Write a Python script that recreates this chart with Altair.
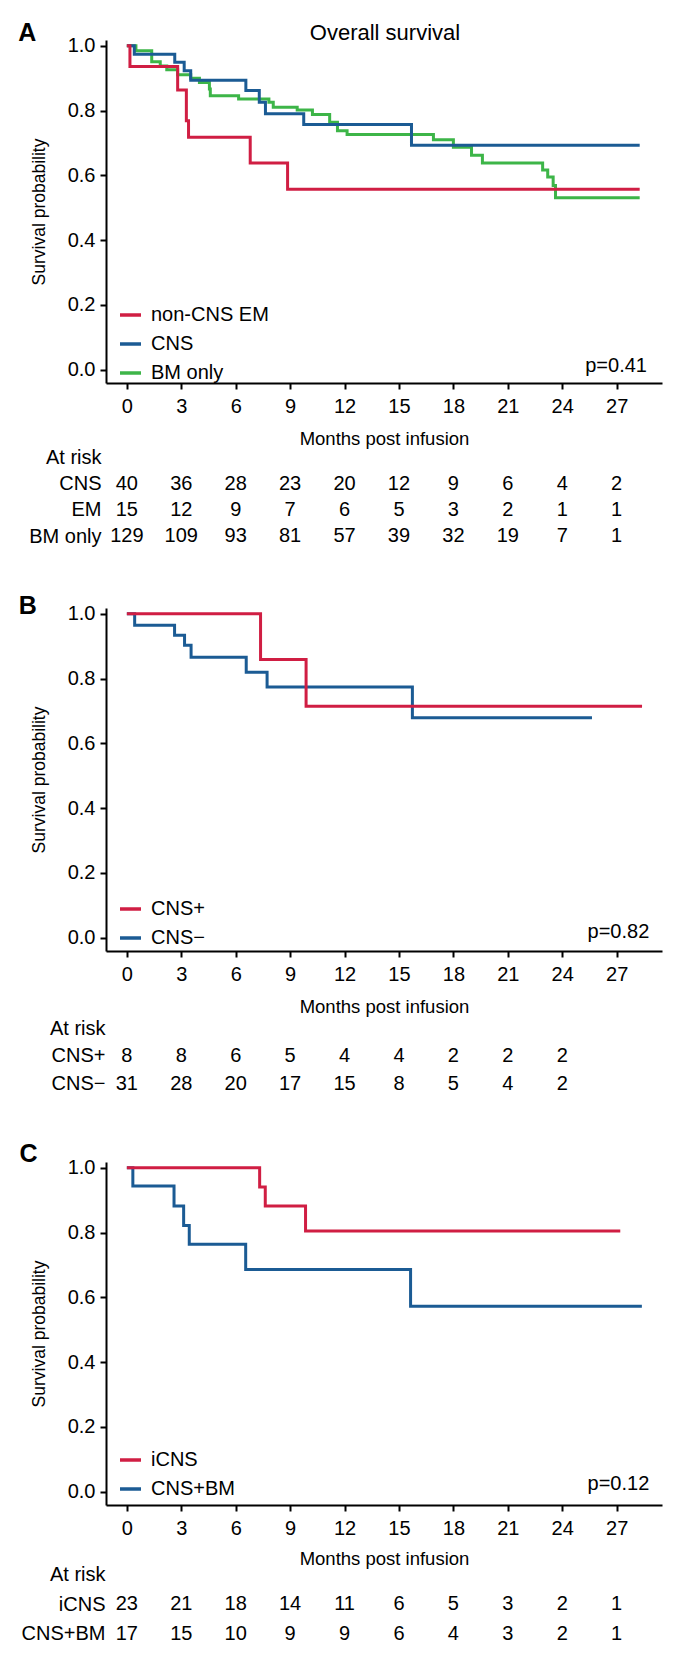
import altair as alt
import pandas as pd

FONT = "Liberation Sans, Arial, Helvetica, sans-serif"

RED = "#D01E43"
BLUE = "#1B5B94"
GREEN = "#3DB548"

X_DOMAIN = [-1.15, 29.5]
Y_DOMAIN = [-0.041, 1.018]
X_TICKS = [0, 3, 6, 9, 12, 15, 18, 21, 24, 27]
Y_TICKS = [0.0, 0.2, 0.4, 0.6, 0.8, 1.0]
W, H = 556, 343

# ---------------- Panel A ----------------
a_groups = ["non-CNS EM", "CNS", "BM only"]
a_red_t = [0, 0.17, 2.8, 3.28, 3.4, 6.8, 8.86, 28.27]
a_red_s = [1.0, 0.936, 0.864, 0.769, 0.718, 0.638, 0.557, 0.557]
a_blue_t = [0, 0.41, 2.64, 3.16, 3.52, 6.56, 7.3, 7.64, 9.75, 15.69, 28.27]
a_blue_s = [1.0, 0.974, 0.949, 0.923, 0.894, 0.862, 0.826, 0.79, 0.757, 0.693, 0.693]
a_green_t = [0, 0.5, 1.37, 1.84, 2.2, 2.8, 3.52, 4.0, 4.55, 4.6, 6.16, 7.83, 8.07,
             9.39, 10.23, 11.18, 11.61, 12.14, 16.9, 18.0, 19.0, 19.6, 22.92, 23.2,
             23.5, 23.63, 28.27]
a_green_s = [1.0, 0.985, 0.951, 0.938, 0.926, 0.911, 0.9, 0.887, 0.867, 0.846, 0.836,
             0.826, 0.81, 0.802, 0.788, 0.764, 0.738, 0.726, 0.71, 0.687, 0.662, 0.638,
             0.617, 0.595, 0.569, 0.531, 0.531]
a_risk_rows = ["CNS", "EM", "BM only"]
a_risk_cns = [40, 36, 28, 23, 20, 12, 9, 6, 4, 2]
a_risk_em = [15, 12, 9, 7, 6, 5, 3, 2, 1, 1]
a_risk_bm = [129, 109, 93, 81, 57, 39, 32, 19, 7, 1]

# ---------------- Panel B ----------------
b_groups = ["CNS+", "CNS\u2212"]
b_red_t = [0, 7.37, 9.88, 28.4]
b_red_s = [1.0, 0.859, 0.715, 0.715]
b_blue_t = [0, 0.43, 2.63, 3.18, 3.54, 6.58, 7.73, 15.74, 25.64]
b_blue_s = [1.0, 0.965, 0.934, 0.903, 0.866, 0.82, 0.774, 0.679, 0.679]
b_risk_rows = ["CNS+", "CNS\u2212"]
b_risk_pos = [8, 8, 6, 5, 4, 4, 2, 2, 2]
b_risk_neg = [31, 28, 20, 17, 15, 8, 5, 4, 2]

# ---------------- Panel C ----------------
c_groups = ["iCNS", "CNS+BM"]
c_red_t = [0, 7.32, 7.63, 9.85, 27.2]
c_red_s = [1.0, 0.941, 0.882, 0.805, 0.805]
c_blue_t = [0, 0.33, 2.6, 3.13, 3.44, 6.55, 15.64, 28.39]
c_blue_s = [1.0, 0.944, 0.882, 0.822, 0.764, 0.686, 0.573, 0.573]
c_risk_rows = ["iCNS", "CNS+BM"]
c_risk_icns = [23, 21, 18, 14, 11, 6, 5, 3, 2, 1]
c_risk_cnsbm = [17, 15, 10, 9, 9, 6, 4, 3, 2, 1]


def km_panel(curves, domain, colors, draw_order, legend_y, letter, letter_xy,
             pval, pval_xy, title=None):
    rows = []
    for name, ts, ss in curves:
        for t, s in zip(ts, ss):
            rows.append({"group": name, "t": t, "s": s})
    df = pd.DataFrame(rows)

    x = alt.X("t:Q", scale=alt.Scale(domain=X_DOMAIN, nice=False, zero=False),
              axis=alt.Axis(values=X_TICKS, title=None, labelPadding=7, labelFlush=False))
    y = alt.Y("s:Q", scale=alt.Scale(domain=Y_DOMAIN, nice=False, zero=False),
              axis=alt.Axis(values=Y_TICKS, format=".1f", title="Survival probability",
                            titleFontSize=17.5, titleFontWeight="normal",
                            labelPadding=5, titlePadding=19, labelFlush=False))
    color = alt.Color("group:N", scale=alt.Scale(domain=domain, range=colors),
                      legend=alt.Legend(orient="none", legendX=12, legendY=legend_y,
                                        title=None, symbolType="stroke",
                                        symbolStrokeWidth=3.5, symbolSize=441,
                                        labelFontSize=20, labelFont=FONT,
                                        labelColor="black", labelOffset=8,
                                        rowPadding=6, padding=0))
    layers = []
    for name in draw_order:
        layers.append(
            alt.Chart(df).transform_filter(alt.datum.group == name)
            .mark_line(interpolate="step-after", strokeWidth=3)
            .encode(x=x, y=y, color=color)
        )
    pdf = pd.DataFrame({"t": [pval_xy[0]], "s": [pval_xy[1]], "label": [pval]})
    layers.append(
        alt.Chart(pdf).mark_text(align="right", baseline="middle", fontSize=20,
                                 font=FONT, color="black")
        .encode(x="t:Q", y="s:Q", text="label:N")
    )
    ldf = pd.DataFrame({"label": [letter]})
    layers.append(
        alt.Chart(ldf).mark_text(align="center", baseline="middle", fontSize=25,
                                 fontWeight="bold", font=FONT, color="black")
        .encode(x=alt.value(letter_xy[0]), y=alt.value(letter_xy[1]), text="label:N")
    )
    if title:
        tdf = pd.DataFrame({"label": [title]})
        layers.append(
            alt.Chart(tdf).mark_text(align="center", baseline="middle", fontSize=22,
                                     font=FONT, color="black")
            .encode(x=alt.value(279), y=alt.value(-7), text="label:N")
        )
    # invisible anchor so every panel has the same left extent
    layers.append(
        alt.Chart(ldf).mark_rule(strokeOpacity=0)
        .encode(x=alt.value(-95), x2=alt.value(-94), y=alt.value(0), y2=alt.value(1))
    )
    return alt.layer(*layers).properties(width=W, height=H)


def risk_panel(row_names, counts, step, label_pad, title_pad):
    rows = []
    for name, cs in zip(row_names, counts):
        for t, n in zip(X_TICKS, cs):
            rows.append({"row": name, "t": t, "n": str(n)})
    df = pd.DataFrame(rows)
    ydom = ["At risk"] + row_names
    height = step * (len(ydom) - 1 + 0.4)
    return alt.Chart(df).mark_text(fontSize=20, font=FONT, color="black",
                                   align="center", baseline="middle").encode(
        x=alt.X("t:Q", scale=alt.Scale(domain=X_DOMAIN, nice=False, zero=False),
                axis=alt.Axis(orient="top", title="Months post infusion", labels=False,
                              ticks=False, domain=False, minExtent=0,
                              titleFont=FONT, titleFontSize=18.5, titleFontWeight="normal",
                              titlePadding=title_pad)),
        y=alt.Y("row:N", scale=alt.Scale(domain=ydom, type="point", padding=0.2),
                axis=alt.Axis(title=None, domain=False, ticks=False, labelFontSize=20,
                              labelPadding=label_pad, labelColor="black", labelFont=FONT,
                              labelFlush=False)),
        text="n:N",
    ).properties(width=W, height=height)


kmA = km_panel(
    [("non-CNS EM", a_red_t, a_red_s), ("CNS", a_blue_t, a_blue_s), ("BM only", a_green_t, a_green_s)],
    a_groups, [RED, BLUE, GREEN], ["BM only", "CNS", "non-CNS EM"],
    262.5, "A", (-78.6, -6.8), "p=0.41", (28.67, 0.013), title="Overall survival")
riskA = risk_panel(a_risk_rows, [a_risk_cns, a_risk_em, a_risk_bm], 26.33, 5, 3.5)

kmB = km_panel(
    [("CNS+", b_red_t, b_red_s), ("CNS\u2212", b_blue_t, b_blue_s)],
    b_groups, [RED, BLUE], ["CNS\u2212", "CNS+"],
    288.5, "B", (-78.3, -1.9), "p=0.82", (28.8, 0.018))
riskB = risk_panel(b_risk_rows, [b_risk_pos, b_risk_neg], 27.65, 1, 6)

kmC = km_panel(
    [("iCNS", c_red_t, c_red_s), ("CNS+BM", c_blue_t, c_blue_s)],
    c_groups, [RED, BLUE], ["CNS+BM", "iCNS"],
    285.5, "C", (-77.5, -8.2), "p=0.12", (28.8, 0.023))
riskC = risk_panel(c_risk_rows, [c_risk_icns, c_risk_cnsbm], 29.65, 1, 0)

panelA = alt.vconcat(kmA, riskA, spacing=13)
panelB = alt.vconcat(kmB, riskB, spacing=13.7)
panelC = alt.vconcat(kmC, riskC, spacing=11.6)

chart = (
    alt.vconcat(panelA, panelB, panelC, spacing=47)
    .properties(padding={"left": 3, "top": 13, "right": 5, "bottom": 5})
    .resolve_scale(color="independent")
    .configure_view(stroke=None)
    .configure_axis(domainColor="black", domainWidth=2, tickColor="black", tickWidth=2,
                    tickSize=6, labelColor="black", titleColor="black", labelFont=FONT,
                    titleFont=FONT, labelFontSize=20, grid=False)
)

chart.save("out.html", embed_options={"renderer": "svg", "actions": False})
